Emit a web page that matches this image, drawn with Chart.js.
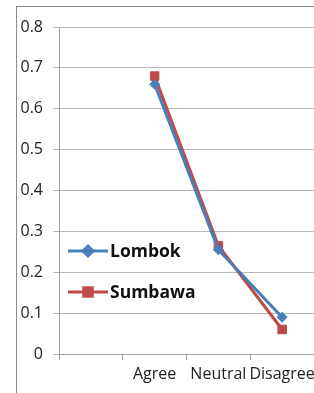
<!DOCTYPE html>
<html>
<head>
<meta charset="utf-8">
<script src="https://cdn.jsdelivr.net/npm/chart.js@4.4.0/dist/chart.umd.min.js"></script>
<style>
    html, body { margin: 0; padding: 0; background: #fff; }
    #wrap { position: relative; width: 314px; height: 393px; overflow: hidden; }
    #frame { position: absolute; left: 16px; top: 6px; width: 400px; height: 500px; border: 1px solid #8a8a8a; }
    #chart1 { position: absolute; left: 0; top: 0; }
</style>
</head>
<body>
<div id="wrap">
    <div id="frame"></div>
    <canvas id="chart1" width="314" height="393"></canvas>
</div>
<script>
// Data
const categories = ["", "Agree", "Neutral", "Disagree"];
const lombok = [null, 0.66, 0.255, 0.09];
const sumbawa = [null, 0.68, 0.265, 0.06];
const yTicks = [0, 0.1, 0.2, 0.3, 0.4, 0.5, 0.6, 0.7, 0.8];

const blue = "#4a7ebb";
const red = "#be4b48";

// Legend di dalam area chart (kiri bawah)
const insideLegend = {
    id: "insideLegend",
    afterDraw(chart) {
        const ctx = chart.ctx;
        const rows = [251, 292];
        ctx.save();
        chart.data.datasets.forEach((ds, i) => {
            const y = rows[i];
            ctx.strokeStyle = ds.borderColor;
            ctx.lineWidth = 3;
            ctx.beginPath();
            ctx.moveTo(68, y);
            ctx.lineTo(108, y);
            ctx.stroke();
            ctx.fillStyle = ds.backgroundColor;
            Chart.helpers.drawPoint(ctx, {
                pointStyle: ds.pointStyle,
                radius: ds.pointRadius,
                borderWidth: 1,
                rotation: 0,
            }, 88, y);
            ctx.fillStyle = "#111";
            ctx.font = "bold 17.5px 'Open Sans'";
            ctx.textBaseline = "middle";
            ctx.fillText(ds.label, 110, y + 1);
        });
        ctx.restore();
    },
};

const ctx1 = document.getElementById("chart1").getContext("2d");
const chart1 = new Chart(ctx1, {
    type: "line",
    data: {
        labels: categories,
        datasets: [
            {
                label: "Lombok",
                data: lombok,
                borderColor: blue,
                backgroundColor: blue,
                borderWidth: 3,
                pointStyle: "rectRot",
                pointRadius: 5,
                pointBorderWidth: 1,
            },
            {
                label: "Sumbawa",
                data: sumbawa,
                borderColor: red,
                backgroundColor: red,
                borderWidth: 3,
                pointStyle: "rect",
                pointRadius: 6,
                pointBorderWidth: 1,
            },
        ],
    },
    options: {
        responsive: false,
        animation: false,
        layout: {
            autoPadding: false,
            padding: { top: 27, right: 0, bottom: 0, left: 0 },
        },
        plugins: {
            legend: { display: false },
            tooltip: { enabled: false },
        },
        scales: {
            x: {
                offset: true,
                grid: {
                    offset: true,
                    drawOnChartArea: false,
                    drawTicks: true,
                    tickLength: 6,
                    tickColor: "#a0a0a0",
                },
                border: { color: "#a0a0a0" },
                ticks: {
                    color: "#222",
                    font: { family: "Open Sans", size: 16 },
                    padding: 5,
                    maxRotation: 0,
                    autoSkip: false,
                },
                afterFit: (scale) => {
                    scale.height = 39;
                    scale.paddingLeft = 0;
                    scale.paddingRight = 0;
                },
            },
            y: {
                min: 0,
                max: 0.8,
                afterBuildTicks: (scale) => {
                    scale.ticks = yTicks.map((v) => ({ value: v }));
                },
                grid: {
                    color: "#b8b8b8",
                    tickLength: 6,
                    tickColor: "#b8b8b8",
                },
                border: { color: "#a0a0a0" },
                ticks: {
                    color: "#222",
                    font: { family: "Open Sans", size: 16 },
                    padding: 10,
                    callback: (v) => (v === 0 ? "0" : v.toFixed(1)),
                },
                afterFit: (scale) => { scale.width = 59; },
            },
        },
    },
    plugins: [insideLegend],
});
</script>
</body>
</html>
